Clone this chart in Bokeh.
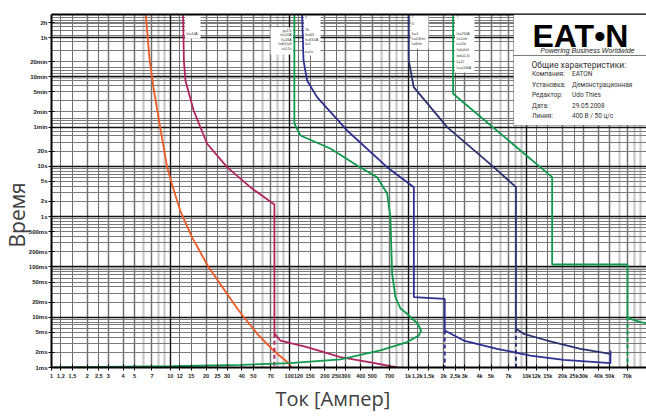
import math
from bokeh.plotting import figure
from bokeh.models import (Range1d, FixedTicker, Grid, Label, BoxAnnotation, Title,
                          LogAxis, CustomJSTickFormatter)
from bokeh.embed import file_html
from bokeh.resources import INLINE

# ---------------- data ----------------
x_tick_values = [1, 1.2, 1.5, 2, 2.5, 3, 4, 5, 7, 10, 12, 15, 20, 25, 30, 40, 50, 70,
                 100, 120, 150, 200, 250, 300, 400, 500, 700, 1000, 1200, 1500, 2000,
                 2500, 3000, 4000, 5000, 7000, 10000, 12000, 15000, 20000, 25000,
                 30000, 40000, 50000, 70000]
x_tick_labels = ["1", "1,2", "1,5", "2", "2,5", "3", "4", "5", "7", "10", "12", "15",
                 "20", "25", "30", "40", "50", "70", "100", "120", "150", "200", "250",
                 "300", "400", "500", "700", "1k", "1,2k", "1,5k", "2k", "2,5k", "3k",
                 "4k", "5k", "7k", "10k", "12k", "15k", "20k", "25k", "30k", "40k",
                 "50k", "70k"]
y_tick_values = [7200, 3600, 1200, 600, 300, 120, 60, 20, 10, 5, 2, 1, 0.5, 0.2, 0.1,
                 0.05, 0.02, 0.01, 0.005, 0.002, 0.001]
y_tick_labels = ["2h", "1h", "20min", "10min", "5min", "2min", "1min", "20s", "10s",
                 "5s", "2s", "1s", "500ms", "200ms", "100ms", "50ms", "20ms", "10ms",
                 "5ms", "2ms", "1ms"]

orange_I = [6.2, 6.7, 7.0, 7.2, 8.2, 9.4, 10.3, 12.1, 15.2, 21.0, 30.0, 37.6, 53.7, 73.6, 93.0, 106.0]
orange_t = [11000, 1270, 620, 374, 60.4, 9.6, 4.49, 1.32, 0.39, 0.0986, 0.0292, 0.0136,
            0.00474, 0.00218, 0.00138, 0.001]

crimson_I = [12.8, 13.0, 13.4, 15.7, 20.4, 30.0, 47.1, 75.1, 75.1]
crimson_t = [11000, 1270, 508, 128.6, 28.0, 9.6, 3.84, 1.74, 0.0047]
crimson_dash_I = [75.1, 75.1]
crimson_dash_t = [0.0047, 0.001]
crimson_inst_I = [75.1, 84.3, 141.5, 270, 483, 814]
crimson_inst_t = [0.0047, 0.00344, 0.00253, 0.0016, 0.00126, 0.001]

green1_I = [110.6, 110.6, 124.3, 222, 373, 550, 667, 711, 735, 783, 863, 983, 1206, 1289,
            1230, 983, 586, 328, 270, 102, 38.8, 10.6, 1.0]
green1_t = [11000, 70.9, 40.9, 22.6, 10.4, 6.07, 2.88, 0.973, 0.0739, 0.025, 0.0149,
            0.0117, 0.0074, 0.0054, 0.0043, 0.0032, 0.0022, 0.0016, 0.00145, 0.00122,
            0.00113, 0.00106, 0.001]

blue_I = [128.4, 132, 141.5, 171.7, 307, 667, 1120, 1120, 2037, 2037]
blue_t = [11000, 1270, 508, 236.6, 51.5, 9.6, 3.84, 0.025, 0.0232, 0.00544]
blue_dash_I = [2037, 2037]
blue_dash_t = [0.00544, 0.001]
blue_inst_I = [2037, 2944, 5623, 10720, 20440, 50550, 50550]
blue_inst_t = [0.00544, 0.00344, 0.00235, 0.00173, 0.00142, 0.00122, 0.00218]

navy_I = [1014, 1014, 1117, 2134, 5265, 8100, 8100]
navy_t = [11000, 1270, 374, 59.9, 9.6, 3.84, 0.00588]
navy_dash_I = [8100, 8100]
navy_dash_t = [0.00588, 0.001]
navy_inst_I = [8100, 9417, 14820, 28270, 50550]
navy_inst_t = [0.00588, 0.00468, 0.00344, 0.00235, 0.00187]

green2_I = [2396, 2396, 16330, 16330, 70280, 70280, 74490, 90420, 101600]
green2_t = [11000, 276, 6.07, 0.1116, 0.1116, 0.0103, 0.0093, 0.0080, 0.0076]
green2_dash_I = [70280, 70280]
green2_dash_t = [0.0103, 0.001]

x_title = "Ток [Ампер]"
y_title = "Время"
info_title = "Общие характеристики:"
info_keys = ["Компания:", "Установка:", "Редактор:", "Дата:", "Линия:"]
info_vals = ["EATON", "Демонстрационная", "Udo Thies", "29.05.2008", "400 В / 50 ц/с"]

tag_A = ["In=10A"]
tag_B = ["g=1%", "In=20A", "Ir=16A", "Isd(Ir)=8", "t=0,1s"]
tag_C = ["T", "1b", "In=63", "Ir=63,0A", "Ii=1", "tr=5s"]
tag_D = ["T", "D", "In=1", "Ir=0,8xIn", "Ii=8xIn"]
tag_E = ["T", "In=250A", "Ir=1xIn", "tr=10s", "Isd=6xIr", "tsd=0,1s", "Ii=12", "Icu=50kA"]

# ---------------- figure ----------------
p = figure(width=646, height=416, x_axis_type="log", y_axis_type="log",
           x_range=Range1d(1, 101600), y_range=Range1d(0.001, 10400),
           output_backend="svg", toolbar_location=None,
           min_border_left=51, min_border_right=0, min_border_top=14, min_border_bottom=49)
p.outline_line_color = None
p.background_fill_color = "white"
p.border_fill_color = "white"
p.grid.visible = False

def fmt(vals, labs):
    return CustomJSTickFormatter(args=dict(vals=vals, labs=labs), code="""
        for (let i = 0; i < vals.length; i++) {
            if (Math.abs(vals[i] - tick) <= 1e-9 * Math.max(1, Math.abs(tick))) return labs[i];
        }
        return "";
    """)

xa = p.xaxis[0]
xa.ticker = FixedTicker(ticks=x_tick_values)
xa.formatter = fmt(x_tick_values, x_tick_labels)
ya = p.yaxis[0]
ya.ticker = FixedTicker(ticks=y_tick_values)
ya.formatter = fmt(y_tick_values, y_tick_labels)
for ax, fs in ((xa, "5.5px"), (ya, "6px")):
    ax.axis_line_width = 2
    ax.axis_line_color = "black"
    ax.major_tick_in = 3
    ax.major_tick_out = 3
    ax.major_tick_line_color = "black"
    ax.major_tick_line_width = 1
    ax.minor_tick_line_color = None
    ax.major_label_text_font = "Liberation Sans"
    ax.major_label_text_font_style = "bold"
    ax.major_label_text_font_size = fs
    ax.major_label_text_color = "#222222"
xa.major_label_standoff = 2
ya.major_label_standoff = 1

top = LogAxis(ticker=FixedTicker(ticks=[]), axis_line_width=2, axis_line_color="black",
              major_tick_in=0, major_tick_out=0, minor_tick_in=0, minor_tick_out=0,
              major_label_text_font_size="0px")
p.add_layout(top, "above")

# axis titles as side-panel titles (offset lets them sit off-centre like the reference)
def side_title(text, size, offset, valign, standoff):
    t = Title(text=text, align="left", offset=offset, vertical_align=valign,
              text_font="Open Sans", text_font_size=size, text_font_style="normal",
              text_color="#404040")
    if "standoff" in Title.properties():
        try:
            t.standoff = standoff
        except Exception:
            t.standoff = 0
    return t

p.add_layout(side_title(y_title, "21px", 120, "middle", -13), "left")
p.add_layout(side_title(x_title, "20px", 224, "top", 6), "below")

# ---------------- grid ----------------
light_v = [k * 10 ** n for n in range(0, 5) for k in range(2, 10)]
dark_v = [m * 10 ** n for n in range(0, 5) for m in (1.2, 1.5, 2, 2.5, 3, 4, 5, 7)]
black_v = [1, 10, 100, 1000, 10000]
dark_h = [k * 10.0 ** n for n in range(-3, 4) for k in range(2, 10)] + [120, 1200, 7200]
light_h = [0.092, 570]
black_h = [0.001, 0.01, 0.1, 1, 10, 60, 600, 3600]

for dim, ticks, col, w in ((0, light_v, "#c9c9c9", 2.2), (1, light_h, "#c9c9c9", 3),
                           (0, dark_v, "#6f6f6f", 1), (1, dark_h, "#7a7a7a", 1),
                           (0, black_v, "#111111", 1.4), (1, black_h, "#111111", 1.4)):
    p.add_layout(Grid(dimension=dim, ticker=FixedTicker(ticks=ticks),
                      grid_line_color=col, grid_line_width=w))

# small white tag boxes at the top (screen units: from frame bottom-left)
def tag_box(left, right, top_, bottom, lines, tx, tys, align):
    p.add_layout(BoxAnnotation(left=left, right=right, top=top_, bottom=bottom,
                               left_units="screen", right_units="screen",
                               top_units="screen", bottom_units="screen",
                               fill_color="white", fill_alpha=1, line_color=None,
                               level="underlay"))
    for s, ty in zip(lines, tys):
        p.add_layout(Label(x=tx, y=ty, x_units="screen", y_units="screen", text=s,
                           text_font="Liberation Sans", text_font_size="3.5px",
                           text_color="#333333", text_align=align,
                           text_baseline="middle"))

tag_box(133.5, 149, 352, 329, tag_A, 135, [334], "left")
tag_box(219, 241.5, 340, 313, tag_B, 240, [336.5, 332.5, 328, 323.5, 319, 315], "right")
tag_box(252.5, 269, 353, 312, tag_C, 253.5, [350, 337.5, 332.5, 328, 323.5, 316], "left")
tag_box(359, 377, 353, 319, tag_D, 360, [350.5, 344, 333.5, 328.5, 323.5], "left")
tag_box(403.5, 423, 353, 295, tag_E, 405, [350.5, 333.5, 328.5, 323.5, 317.5, 312, 306, 300], "left")

# ---------------- curves ----------------
ORANGE = "#f15a24"
CRIMSON = "#b3245e"
GREEN = "#0f9a4e"
BLUE = "#2e3192"
NAVY = "#2b3270"
W = 1.8
p.line(orange_I, orange_t, line_color=ORANGE, line_width=W)
p.line(crimson_I, crimson_t, line_color=CRIMSON, line_width=W)
p.line(crimson_dash_I, crimson_dash_t, line_color=CRIMSON, line_width=2, line_dash="4 3")
p.line(crimson_inst_I, crimson_inst_t, line_color=CRIMSON, line_width=W)
p.line(green1_I, green1_t, line_color=GREEN, line_width=W)
p.line(blue_I, blue_t, line_color=BLUE, line_width=W)
p.line(blue_dash_I, blue_dash_t, line_color=BLUE, line_width=2, line_dash="4 3")
p.line(blue_inst_I, blue_inst_t, line_color=BLUE, line_width=W)
p.line(navy_I, navy_t, line_color=NAVY, line_width=W)
p.line(navy_dash_I, navy_dash_t, line_color=NAVY, line_width=2, line_dash="4 3")
p.line(navy_inst_I, navy_inst_t, line_color=NAVY, line_width=W)
p.line(green2_I, green2_t, line_color=GREEN, line_width=W)
p.line(green2_dash_I, green2_dash_t, line_color=GREEN, line_width=2, line_dash="4 3")

# ---------------- info box ----------------
p.add_layout(BoxAnnotation(left=462, right=600, top=353, bottom=242,
                           left_units="screen", right_units="screen",
                           top_units="screen", bottom_units="screen",
                           fill_color="white", fill_alpha=1,
                           line_color="black", line_width=1.2))
p.add_layout(BoxAnnotation(left=462, right=600, top=312, bottom=312,
                           left_units="screen", right_units="screen",
                           top_units="screen", bottom_units="screen",
                           fill_alpha=0, line_color="black", line_width=1))
p.add_layout(Label(x=481, y=331.5, x_units="screen", y_units="screen", text="EAT•N",
                   text_font="Liberation Sans", text_font_style="bold",
                   text_font_size="32px", text_color="black",
                   text_align="left", text_baseline="alphabetic"))
p.add_layout(Label(x=583, y=317, x_units="screen", y_units="screen",
                   text="Powering Business Worldwide",
                   text_font="Liberation Sans", text_font_style="italic",
                   text_font_size="7px", text_color="#222222",
                   text_align="right", text_baseline="alphabetic"))
p.add_layout(Label(x=480, y=303, x_units="screen", y_units="screen", text=info_title,
                   text_font="Roboto", text_font_size="8.5px",
                   text_color="#333333", text_align="left", text_baseline="alphabetic"))
for k, v, ty in zip(info_keys, info_vals, [293.5, 283, 272.5, 262, 251.5]):
    p.add_layout(Label(x=480.5, y=ty, x_units="screen", y_units="screen", text=k,
                       text_font="Roboto", text_font_size="6.5px",
                       text_color="#333333", text_align="left", text_baseline="alphabetic"))
    p.add_layout(Label(x=520.5, y=ty, x_units="screen", y_units="screen", text=v,
                       text_font="Roboto", text_font_size="6.5px",
                       text_color="#333333", text_align="left", text_baseline="alphabetic"))

open("out.html", "w").write(file_html(p, INLINE))
